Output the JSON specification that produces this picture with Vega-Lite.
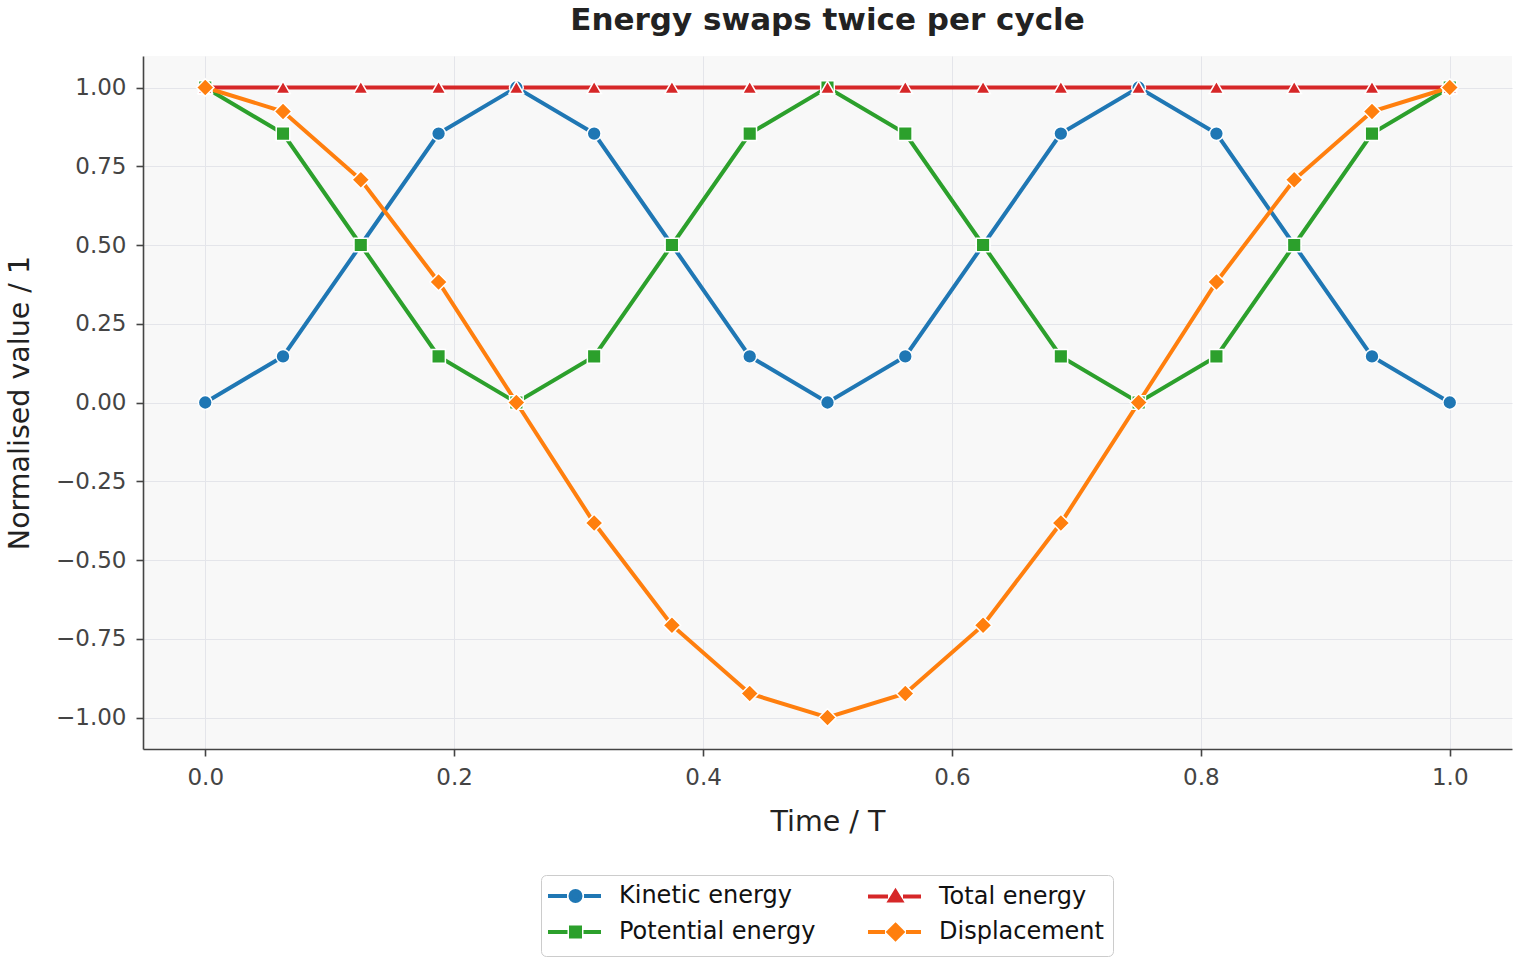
{
  "$schema": "https://vega.github.io/schema/vega-lite/v6.json",
  "autosize": {"type": "none"},
  "width": 1369,
  "height": 693,
  "padding": {"left": 143, "top": 56, "right": 8, "bottom": 211},
  "background": "white",
  "title": {"text": "Energy swaps twice per cycle", "font": "DejaVu Sans", "fontSize": 31, "fontWeight": "bold", "color": "#222222", "anchor": "middle", "frame": "group", "offset": 19},
  "config": {
    "font": "DejaVu Sans",
    "view": {"fill": "#f8f8f8", "stroke": null},
    "axis": {
      "labelFont": "DejaVu Sans", "labelFontSize": 23, "labelColor": "#444444",
      "titleFont": "DejaVu Sans", "titleFontSize": 28.5, "titleFontWeight": "normal", "titleColor": "#222222",
      "domainColor": "#444444", "domainWidth": 1.6, "tickColor": "#444444", "tickWidth": 1.6, "tickSize": 7,
      "gridColor": "#e4e5ea", "gridWidth": 1, "labelPadding": 9
    }
  },
  "data": {"values": [
    {"time": 0, "series": "Kinetic energy", "value": 0},
    {"time": 0.0625, "series": "Kinetic energy", "value": 0.1464},
    {"time": 0.125, "series": "Kinetic energy", "value": 0.5},
    {"time": 0.1875, "series": "Kinetic energy", "value": 0.8536},
    {"time": 0.25, "series": "Kinetic energy", "value": 1},
    {"time": 0.3125, "series": "Kinetic energy", "value": 0.8536},
    {"time": 0.375, "series": "Kinetic energy", "value": 0.5},
    {"time": 0.4375, "series": "Kinetic energy", "value": 0.1464},
    {"time": 0.5, "series": "Kinetic energy", "value": 0},
    {"time": 0.5625, "series": "Kinetic energy", "value": 0.1464},
    {"time": 0.625, "series": "Kinetic energy", "value": 0.5},
    {"time": 0.6875, "series": "Kinetic energy", "value": 0.8536},
    {"time": 0.75, "series": "Kinetic energy", "value": 1},
    {"time": 0.8125, "series": "Kinetic energy", "value": 0.8536},
    {"time": 0.875, "series": "Kinetic energy", "value": 0.5},
    {"time": 0.9375, "series": "Kinetic energy", "value": 0.1464},
    {"time": 1, "series": "Kinetic energy", "value": 0},
    {"time": 0, "series": "Potential energy", "value": 1},
    {"time": 0.0625, "series": "Potential energy", "value": 0.8536},
    {"time": 0.125, "series": "Potential energy", "value": 0.5},
    {"time": 0.1875, "series": "Potential energy", "value": 0.1464},
    {"time": 0.25, "series": "Potential energy", "value": 0},
    {"time": 0.3125, "series": "Potential energy", "value": 0.1464},
    {"time": 0.375, "series": "Potential energy", "value": 0.5},
    {"time": 0.4375, "series": "Potential energy", "value": 0.8536},
    {"time": 0.5, "series": "Potential energy", "value": 1},
    {"time": 0.5625, "series": "Potential energy", "value": 0.8536},
    {"time": 0.625, "series": "Potential energy", "value": 0.5},
    {"time": 0.6875, "series": "Potential energy", "value": 0.1464},
    {"time": 0.75, "series": "Potential energy", "value": 0},
    {"time": 0.8125, "series": "Potential energy", "value": 0.1464},
    {"time": 0.875, "series": "Potential energy", "value": 0.5},
    {"time": 0.9375, "series": "Potential energy", "value": 0.8536},
    {"time": 1, "series": "Potential energy", "value": 1},
    {"time": 0, "series": "Total energy", "value": 1},
    {"time": 0.0625, "series": "Total energy", "value": 1},
    {"time": 0.125, "series": "Total energy", "value": 1},
    {"time": 0.1875, "series": "Total energy", "value": 1},
    {"time": 0.25, "series": "Total energy", "value": 1},
    {"time": 0.3125, "series": "Total energy", "value": 1},
    {"time": 0.375, "series": "Total energy", "value": 1},
    {"time": 0.4375, "series": "Total energy", "value": 1},
    {"time": 0.5, "series": "Total energy", "value": 1},
    {"time": 0.5625, "series": "Total energy", "value": 1},
    {"time": 0.625, "series": "Total energy", "value": 1},
    {"time": 0.6875, "series": "Total energy", "value": 1},
    {"time": 0.75, "series": "Total energy", "value": 1},
    {"time": 0.8125, "series": "Total energy", "value": 1},
    {"time": 0.875, "series": "Total energy", "value": 1},
    {"time": 0.9375, "series": "Total energy", "value": 1},
    {"time": 1, "series": "Total energy", "value": 1},
    {"time": 0, "series": "Displacement", "value": 1},
    {"time": 0.0625, "series": "Displacement", "value": 0.9239},
    {"time": 0.125, "series": "Displacement", "value": 0.7071},
    {"time": 0.1875, "series": "Displacement", "value": 0.3827},
    {"time": 0.25, "series": "Displacement", "value": 0},
    {"time": 0.3125, "series": "Displacement", "value": -0.3827},
    {"time": 0.375, "series": "Displacement", "value": -0.7071},
    {"time": 0.4375, "series": "Displacement", "value": -0.9239},
    {"time": 0.5, "series": "Displacement", "value": -1},
    {"time": 0.5625, "series": "Displacement", "value": -0.9239},
    {"time": 0.625, "series": "Displacement", "value": -0.7071},
    {"time": 0.6875, "series": "Displacement", "value": -0.3827},
    {"time": 0.75, "series": "Displacement", "value": 0},
    {"time": 0.8125, "series": "Displacement", "value": 0.3827},
    {"time": 0.875, "series": "Displacement", "value": 0.7071},
    {"time": 0.9375, "series": "Displacement", "value": 0.9239},
    {"time": 1, "series": "Displacement", "value": 1}
  ]},
  "encoding": {
    "x": {"field": "time", "type": "quantitative", "scale": {"domain": [-0.05, 1.05], "nice": false, "zero": false},
      "axis": {"title": "Time / T", "values": [0, 0.2, 0.4, 0.6, 0.8, 1], "format": ".1f", "titlePadding": 18, "labelPadding": 10}},
    "y": {"field": "value", "type": "quantitative", "scale": {"domain": [-1.1, 1.1], "nice": false, "zero": false},
      "axis": {"title": "Normalised value / 1", "values": [-1, -0.75, -0.5, -0.25, 0, 0.25, 0.5, 0.75, 1], "format": ".2f", "titlePadding": 21, "labelPadding": 10}},
    "color": {"field": "series", "type": "nominal",
      "scale": {"domain": ["Kinetic energy", "Potential energy", "Total energy", "Displacement"], "range": ["#1f77b4", "#2ca02c", "#d62728", "#ff7f0e"]},
      "legend": {
        "title": null, "orient": "none", "legendX": 398, "legendY": 819, "columns": 2,
        "labelFont": "DejaVu Sans", "labelFontSize": 24, "labelColor": "#111111", "labelLimit": 500,
        "symbolSize": 100, "symbolStrokeWidth": 4, "labelOffset": 45,
        "columnPadding": 44, "rowPadding": 8, "padding": 9,
        "strokeColor": "#cccccc", "cornerRadius": 5, "fillColor": "white",
        "encode": {
          "symbols": {"update": {
            "shape": {"signal": "datum.value === 'Kinetic energy' ? 'M-2.8,0H1M4.4,0H7.8M3.7,0A1,1,0,1,1,1.7,0A1,1,0,1,1,3.7,0Z' : datum.value === 'Potential energy' ? 'M-2.8,0H1.1M4.3,0H7.8M1.8,-0.9H3.6V0.9H1.8Z' : datum.value === 'Total energy' ? 'M-2.8,0H1.2M4.2,0H7.8M2.7,-1L3.8,0.8H1.6Z' : 'M-2.8,0H0.6M4.8,0H7.8M2.7,-1.4L4.1,0L2.7,1.4L1.3,0Z'"},
            "fill": {"scale": "color", "field": "value"},
            "stroke": {"scale": "color", "field": "value"},
            "strokeWidth": {"value": 4},
            "size": {"value": 100},
            "opacity": {"value": 1}
          }}
        }
      }
    }
  },
  "layer": [
    {"mark": {"type": "line", "strokeWidth": 4}},
    {"mark": {"type": "point", "filled": true, "opacity": 1, "stroke": "white", "strokeWidth": 1.5, "size": 100},
      "encoding": {
        "shape": {"field": "series", "type": "nominal",
          "scale": {"domain": ["Displacement", "Kinetic energy", "Potential energy", "Total energy"],
            "range": ["M0,-1.75L1.75,0L0,1.75L-1.75,0Z", "M1.38,0A1.38,1.38,0,1,1,-1.38,0A1.38,1.38,0,1,1,1.38,0Z", "M-1.36,-1.36H1.36V1.36H-1.36Z", "M0,-1.28L1.45,1.2H-1.45Z"]},
          "legend": null}
      }}
  ]
}
